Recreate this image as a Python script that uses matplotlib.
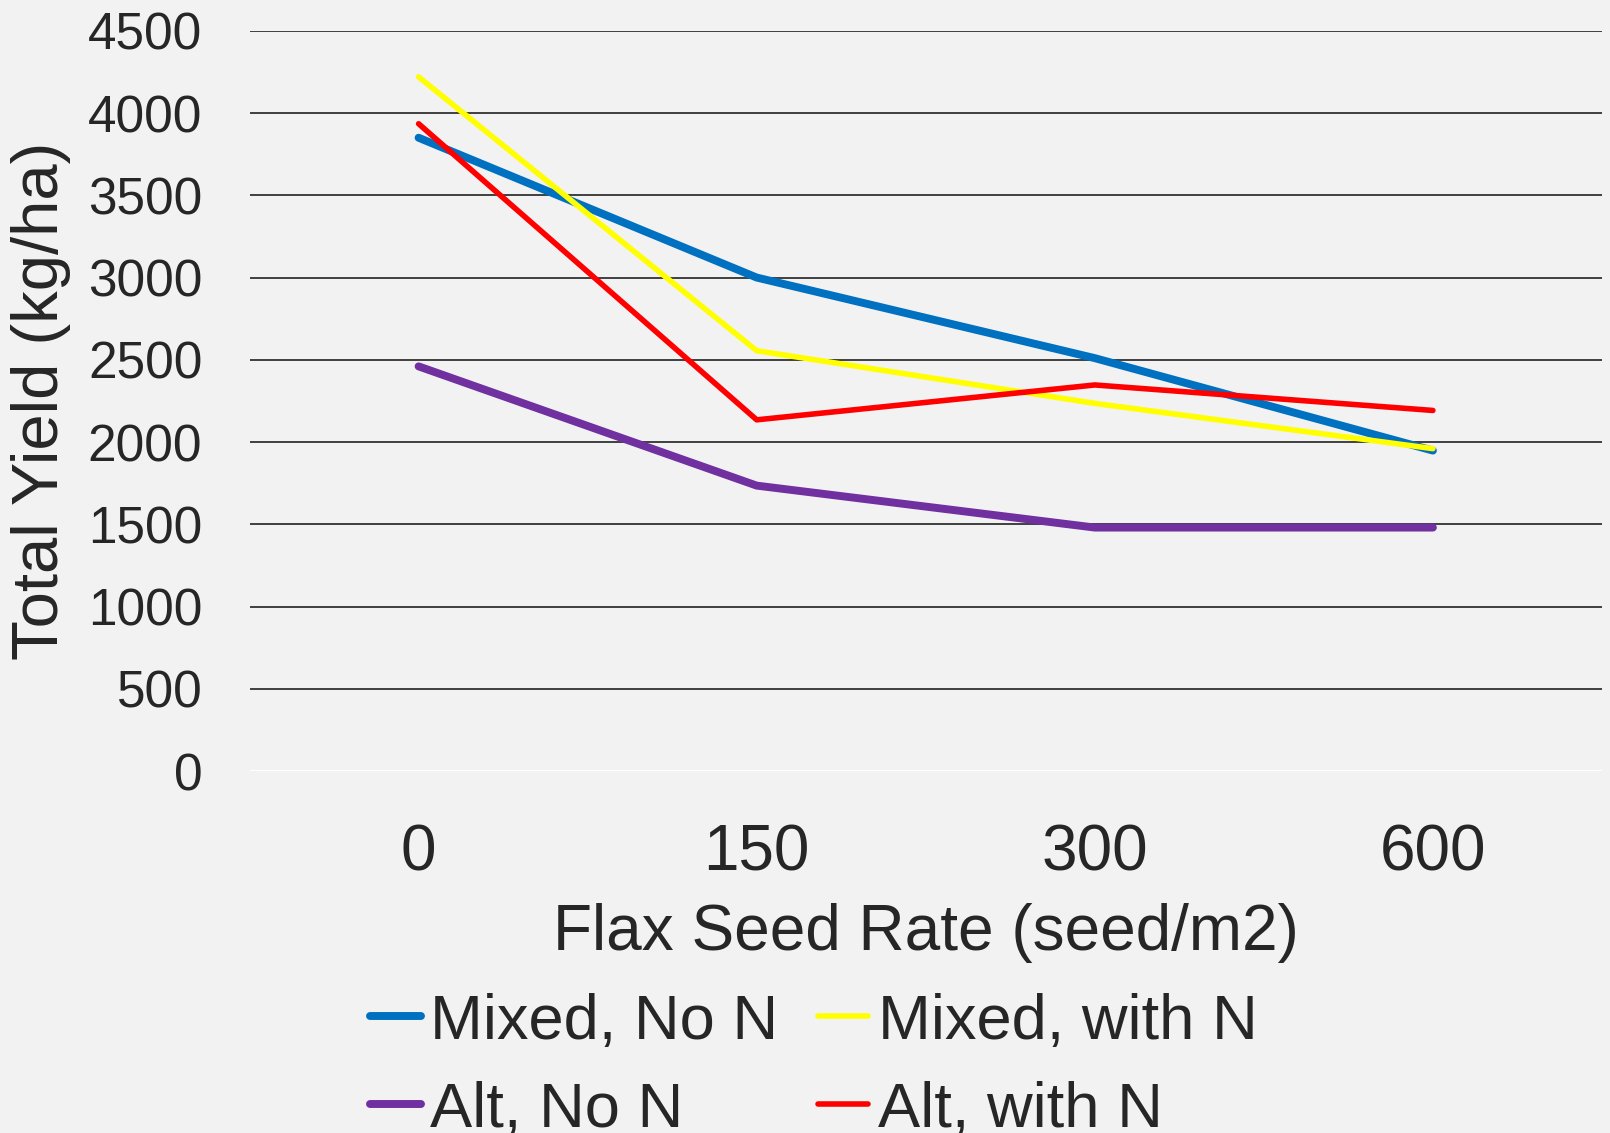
import matplotlib.pyplot as plt

plt.rcParams['font.family'] = ['Liberation Sans', 'DejaVu Sans']

# Data
seed_rates = ["0", "150", "300", "600"]
mixed_no_n = [3850, 3000, 2510, 1948]
mixed_with_n = [4220, 2555, 2235, 1960]
alt_no_n = [2460, 1735, 1480, 1480]
alt_with_n = [3935, 2135, 2347, 2192]

bg = "#f2f2f2"
text_col = "#262626"

fig = plt.figure(figsize=(16.1, 11.33), dpi=100, facecolor=bg)
ax = fig.add_axes([0.155, 0.3195, 0.84, 0.6533], facecolor=bg)

x = range(len(seed_rates))

# Gridlines (the zero line is white in the original)
for v in range(500, 5000, 500):
    ax.axhline(v, color="#404040", lw=1.4, zorder=1)
ax.axhline(0, color="white", lw=2, zorder=1)

l1, = ax.plot(x, mixed_no_n, color="#0070C0", lw=5.7, solid_capstyle="round", label="Mixed, No N", zorder=3)
l2, = ax.plot(x, mixed_with_n, color="#FFFF00", lw=4, solid_capstyle="round", label="Mixed, with N", zorder=3)
l3, = ax.plot(x, alt_no_n, color="#7030A0", lw=5.7, solid_capstyle="round", label="Alt, No N", zorder=3)
l4, = ax.plot(x, alt_with_n, color="#FF0000", lw=4, solid_capstyle="round", label="Alt, with N", zorder=3)

ax.set_xlim(-0.5, 3.5)
ax.set_ylim(0, 4500)
ax.set_yticks(range(0, 5000, 500))
ax.set_xticks(list(x))
ax.set_xticklabels(seed_rates)

for s in ax.spines.values():
    s.set_visible(False)
ax.tick_params(axis="both", length=0, colors=text_col)
ax.tick_params(axis="y", labelsize=37, pad=34)
ax.tick_params(axis="x", labelsize=46, pad=38)

ax.set_xlabel("Flax Seed Rate (seed/m2)", fontsize=46, color=text_col, labelpad=14)
ax.set_ylabel("Total Yield (kg/ha)", fontsize=47, color=text_col)
ax.yaxis.set_label_coords(-0.132, 0.5)

leg = fig.legend(handles=[l1, l3, l2, l4], ncol=2, loc="upper left",
                 bbox_to_anchor=(0.230, 0.124), frameon=False, fontsize=45.5,
                 handlelength=0.8, handletextpad=0.15, columnspacing=0.62,
                 labelspacing=0.46, borderaxespad=0, borderpad=0)
for t in leg.get_texts():
    t.set_color(text_col)

fig.savefig("out.png", dpi=100, facecolor=bg)
